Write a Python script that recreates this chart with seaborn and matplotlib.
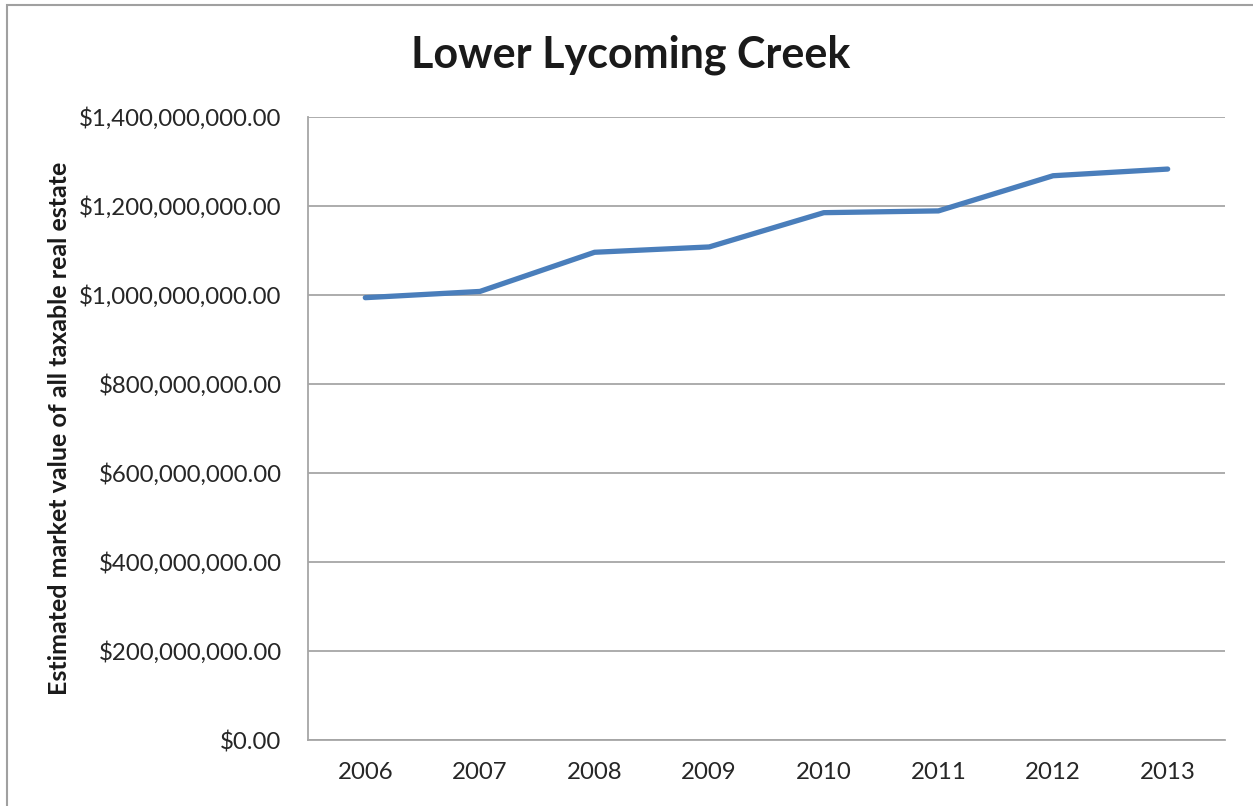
import pandas as pd
import numpy as np
import matplotlib.pyplot as plt
import matplotlib.ticker as mticker
from matplotlib.patches import Rectangle
import seaborn as sns

years = ['2006', '2007', '2008', '2009', '2010', '2011', '2012', '2013']
market_value = [994e6, 1008e6, 1096e6, 1108e6, 1185e6, 1189e6, 1268e6, 1283e6]
y_ticks = [0, 200e6, 400e6, 600e6, 800e6, 1000e6, 1200e6, 1400e6]

df = pd.DataFrame({'Year': years, 'Value': market_value})

sns.set_style('white')
plt.rcParams['font.family'] = ['Lato', 'DejaVu Sans']

fig = plt.figure(figsize=(12.53, 8.06), dpi=100)
ax = fig.add_axes([308 / 1253, 66 / 806, 917 / 1253, 623 / 806])

sns.lineplot(data=df, x='Year', y='Value', ax=ax, color='#4a7ebb',
             linewidth=3.8, solid_capstyle='round', solid_joinstyle='round')

ax.set_xlim(-0.5, 7.5)
ax.set_ylim(0, 1400e6)
ax.set_yticks(y_ticks)
ax.yaxis.set_major_formatter(mticker.FuncFormatter(lambda v, p: '${:,.2f}'.format(v)))
ax.yaxis.grid(True, color='#a6a6a6', linewidth=1.3)
ax.set_axisbelow(True)
ax.tick_params(axis='both', length=0, labelsize=17.3, colors='#262626')
ax.tick_params(axis='y', pad=19)
ax.tick_params(axis='x', pad=16)

for side in ['top', 'right']:
    ax.spines[side].set_visible(False)
for side in ['left', 'bottom']:
    ax.spines[side].set_color('#a6a6a6')
    ax.spines[side].set_linewidth(1.3)

ax.set_xlabel('')
ax.set_ylabel('Estimated market value of all taxable real estate', fontsize=18,
              fontweight='bold', color='#1a1a1a', labelpad=6)

fig.text(631 / 1253, 1 - 55 / 806, 'Lower Lycoming Creek', ha='center', va='center',
         fontsize=31, fontweight='bold', color='#1a1a1a')

# outer chart border
fig.patches.append(Rectangle((7 / 1253, -0.1), 1.2, 0.1 + (806 - 5) / 806,
                             transform=fig.transFigure, fill=False,
                             edgecolor='#a0a0a0', linewidth=1.5))

fig.savefig('out.png', dpi=100)
